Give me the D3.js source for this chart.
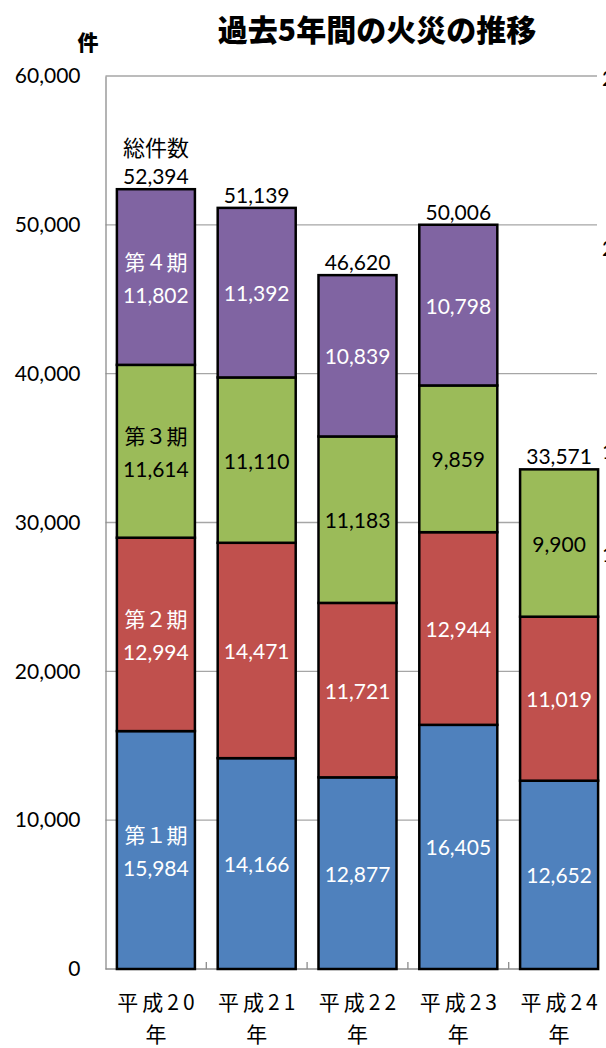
<!DOCTYPE html>
<html lang="ja">
<head>
<meta charset="utf-8">
<script src="https://cdn.jsdelivr.net/npm/d3@7/dist/d3.min.js"></script>
<style>
  html, body { margin: 0; padding: 0; background: #fff; }
  svg { display: block; }
  .num { font-family: Lato, "Noto Sans", sans-serif; }
  .jp { font-family: "Noto Sans CJK JP", sans-serif; }
</style>
</head>
<body>
<script>
// Fires per quarter (第1期〜第4期), 平成20年〜平成24年
const years = ["平成20年", "平成21年", "平成22年", "平成23年", "平成24年"];
const yearLine1 = ["平成20", "平成21", "平成22", "平成23", "平成24"];
const periods = ["第１期", "第２期", "第３期", "第４期"];
const q1 = [15984, 14166, 12877, 16405, 12652];
const q2 = [12994, 14471, 11721, 12944, 11019];
const q3 = [11614, 11110, 11183, 9859, 9900];
const q4 = [11802, 11392, 10839, 10798, null];
const totals = [52394, 51139, 46620, 50006, 33571];
const yTicks = [0, 10000, 20000, 30000, 40000, 50000, 60000];
const rightTickText = ["2", "2", "1", "1"];
const rightTickY = [77, 247, 450, 553];

const colors = ["#4F81BD", "#C0504D", "#9BBB59", "#8064A2"];
const labelColors = ["#ffffff", "#ffffff", "#000000", "#ffffff"];

const W = 606, H = 1048;
const plot = { left: 105.5, right: 597, top: 76, bottom: 969 };

const svg = d3.select("body").append("svg").attr("width", W).attr("height", H);

const y = d3.scaleLinear().domain([0, 60000]).range([plot.bottom, plot.top]);
const x = d3.scaleBand().domain(years).range([plot.left, 609.5])
  .paddingInner(0.226).paddingOuter(0.113);

const fmt = d3.format(",");

// Title and unit
svg.append("text").attr("class", "jp").attr("x", 377).attr("y", 41)
  .attr("text-anchor", "middle").attr("font-size", 30).attr("font-weight", 900)
  .text("過去5年間の火災の推移");
svg.append("text").attr("class", "jp").attr("x", 88).attr("y", 50)
  .attr("text-anchor", "middle").attr("font-size", 21).attr("font-weight", 900)
  .text("件");

// Gridlines
svg.append("g").selectAll("line").data(yTicks.filter(d => d > 0)).join("line")
  .attr("x1", plot.left).attr("x2", plot.right)
  .attr("y1", d => y(d)).attr("y2", d => y(d))
  .attr("stroke", "#a6a6a6").attr("stroke-width", 1.3);

// Y axis
const yAxis = svg.append("g").attr("transform", `translate(${plot.left},0)`)
  .call(d3.axisLeft(y).tickValues(yTicks).tickFormat(fmt).tickSize(0).tickPadding(25));
yAxis.select(".domain").attr("stroke", "#8c8c8c").attr("stroke-width", 1.3);
yAxis.selectAll("text").attr("class", "num").attr("font-size", 21).attr("fill", "#000");

// X axis line and category ticks
svg.append("line").attr("x1", plot.left).attr("x2", plot.right)
  .attr("y1", plot.bottom).attr("y2", plot.bottom)
  .attr("stroke", "#8c8c8c").attr("stroke-width", 1.5);
const step = x.step();
svg.append("g").selectAll("line").data(years.slice(1)).join("line")
  .attr("x1", d => x(d) - step * x.paddingInner() / 2)
  .attr("x2", d => x(d) - step * x.paddingInner() / 2)
  .attr("y1", plot.bottom).attr("y2", plot.bottom - 7)
  .attr("stroke", "#8c8c8c").attr("stroke-width", 1.3);

// Stacked segments
const series = [q1, q2, q3, q4];
const segs = [];
years.forEach((yr, i) => {
  let base = 0;
  series.forEach((s, k) => {
    const v = s[i];
    if (v == null) return;
    segs.push({ yr, i, k, v, y0: base, y1: base + v });
    base += v;
  });
});

svg.append("g").selectAll("rect").data(segs).join("rect")
  .attr("x", d => x(d.yr))
  .attr("width", x.bandwidth())
  .attr("y", d => y(d.y1))
  .attr("height", d => y(d.y0) - y(d.y1))
  .attr("fill", d => colors[d.k])
  .attr("stroke", "#000").attr("stroke-width", 2.5);

// Segment value labels (first bar also names the period)
const lbl = svg.append("g");
segs.forEach(d => {
  const cx = x(d.yr) + x.bandwidth() / 2;
  const cy = (y(d.y0) + y(d.y1)) / 2;
  if (d.i === 0) {
    lbl.append("text").attr("class", "jp").attr("x", cx).attr("y", cy - 16)
      .attr("text-anchor", "middle").attr("dominant-baseline", "central")
      .attr("font-size", 21).attr("fill", labelColors[d.k]).text(periods[d.k]);
    lbl.append("text").attr("class", "num").attr("x", cx).attr("y", cy + 17)
      .attr("text-anchor", "middle").attr("dominant-baseline", "central")
      .attr("font-size", 21).attr("fill", labelColors[d.k]).text(fmt(d.v));
  } else {
    lbl.append("text").attr("class", "num").attr("x", cx).attr("y", cy)
      .attr("text-anchor", "middle").attr("dominant-baseline", "central")
      .attr("font-size", 21).attr("fill", labelColors[d.k]).text(fmt(d.v));
  }
});

// Totals above bars
svg.append("g").selectAll("text").data(totals).join("text")
  .attr("class", "num")
  .attr("x", (d, i) => x(years[i]) + x.bandwidth() / 2)
  .attr("y", d => y(d) - 5)
  .attr("text-anchor", "middle").attr("font-size", 21).attr("fill", "#000")
  .text(d => fmt(d));
svg.append("text").attr("class", "jp")
  .attr("x", x(years[0]) + x.bandwidth() / 2).attr("y", y(totals[0]) - 33)
  .attr("text-anchor", "middle").attr("font-size", 22).attr("fill", "#000")
  .text("総件数");

// Category labels (two lines)
const xl = svg.append("g");
years.forEach((yr, i) => {
  const cx = x(yr) + x.bandwidth() / 2;
  xl.append("text").attr("class", "jp").attr("x", cx + 2).attr("y", 1010)
    .attr("text-anchor", "middle").attr("font-size", 21)
    .attr("letter-spacing", 4).text(yearLine1[i]);
  xl.append("text").attr("class", "jp").attr("x", cx).attr("y", 1042)
    .attr("text-anchor", "middle").attr("font-size", 21).text("年");
});

// Secondary axis labels at the right edge
svg.append("g").selectAll("text").data(rightTickText).join("text")
  .attr("class", "num").attr("x", 602).attr("y", (d, i) => rightTickY[i])
  .attr("dominant-baseline", "central").attr("font-size", 21).text(d => d);
</script>
</body>
</html>
